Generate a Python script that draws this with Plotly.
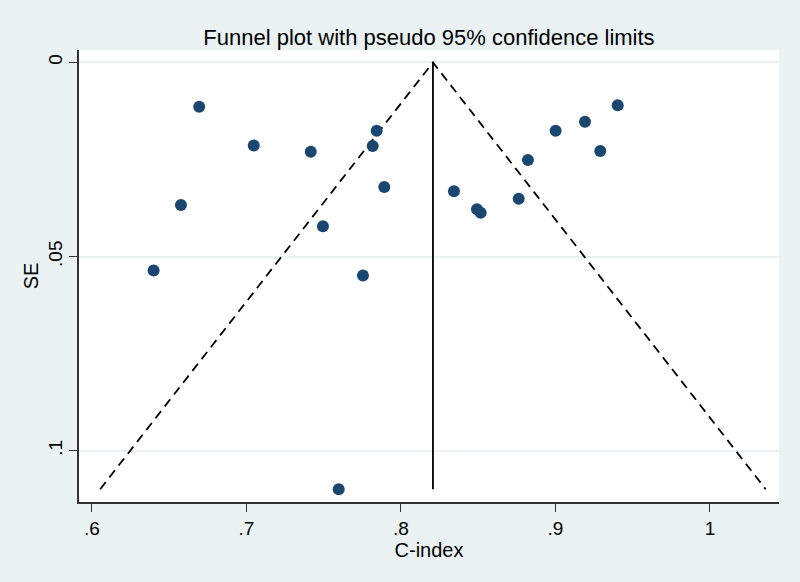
import plotly.graph_objects as go

# Study estimates (C-index) and their standard errors
c_index = [0.6694, 0.7047, 0.7416, 0.7843, 0.7817, 0.7892, 0.6576, 0.7495, 0.6399, 0.7754,
           0.7597, 0.8343, 0.8492, 0.8516, 0.8762, 0.8822, 0.9001, 0.9191, 0.9290, 0.9403]
se = [0.0114, 0.0214, 0.0230, 0.0176, 0.0215, 0.0321, 0.0367, 0.0422, 0.0536, 0.0549,
      0.1099, 0.0332, 0.0378, 0.0387, 0.0351, 0.0251, 0.0176, 0.0153, 0.0228, 0.0110]
pooled = 0.8207
z = 1.96

x_ticks = [0.6, 0.7, 0.8, 0.9, 1.0]
x_labels = [".6", ".7", ".8", ".9", "1"]
y_ticks = [0, 0.05, 0.1]
y_labels = ["0", ".05", ".1"]

se_max = max(se)

fig = go.Figure()
# pseudo 95% confidence limits
fig.add_trace(go.Scatter(
    x=[pooled - z * se_max, pooled, pooled + z * se_max],
    y=[se_max, 0, se_max],
    mode="lines", line=dict(color="black", width=1.8, dash="9px,6px"),
    hoverinfo="skip", showlegend=False))
# pooled estimate line
fig.add_trace(go.Scatter(
    x=[pooled, pooled], y=[0, se_max],
    mode="lines", line=dict(color="black", width=1.8),
    hoverinfo="skip", showlegend=False))
# studies
fig.add_trace(go.Scatter(
    x=c_index, y=se, mode="markers",
    marker=dict(color="#1A476F", size=12),
    showlegend=False))

font_family = "Liberation Sans, Arial, sans-serif"
fig.update_layout(
    width=800, height=582,
    paper_bgcolor="#EAF2F3", plot_bgcolor="white",
    margin=dict(l=79, r=21, t=50, b=80),
    font=dict(family=font_family, color="black", size=19),
    title=dict(text="Funnel plot with pseudo 95% confidence limits",
               x=429 / 800, xanchor="center", y=1 - 37 / 582, yanchor="middle",
               font=dict(size=22, family=font_family, color="black")),
    xaxis=dict(range=[0.5916, 1.0447], tickvals=x_ticks, ticktext=x_labels,
               showgrid=False, zeroline=False, showline=True, linecolor="#333333",
               linewidth=1.5, ticks="outside", ticklen=8, tickcolor="#333333",
               tickfont=dict(size=19),
               title=dict(text="C-index", font=dict(size=20), standoff=3)),
    yaxis=dict(range=[0.1132, -0.0032], tickvals=y_ticks, ticktext=y_labels,
               showgrid=True, gridcolor="#EAF2F3", gridwidth=1.5,
               zeroline=False, showline=True, linecolor="#333333",
               linewidth=1.5, ticks="outside", ticklen=8, tickcolor="#333333",
               tickangle=-90, tickfont=dict(size=19),
               title=dict(text="SE", font=dict(size=20), standoff=1)),
)

fig.write_html("out.html")
